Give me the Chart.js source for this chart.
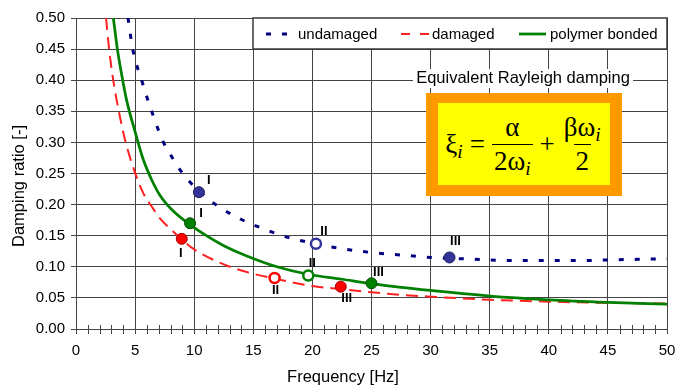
<!DOCTYPE html>
<html>
<head>
<meta charset="utf-8">
<script src="https://cdn.jsdelivr.net/npm/chart.js@4.4.0/dist/chart.umd.min.js"></script>
<style>
  html, body { margin: 0; padding: 0; background: #fff; }
  #wrap { position: relative; width: 678px; height: 387px; }
  #formula {
    position: absolute; left: 426px; top: 93px; width: 196px; height: 103px;
    box-sizing: border-box; background: #ffff00;
    border-style: solid; border-color: #ff9900; border-width: 10px 12px 11px 12px;
    display: flex; align-items: center; justify-content: center;
    font-family: 'Liberation Serif', 'Times New Roman', serif; font-size: 27px; color: #000;
  }
  #formula sub { font-style: italic; font-size: 0.72em; vertical-align: -0.28em; line-height: 0; }
  #formula .op { margin: 0 7px; }
  #formula .frac { display: inline-flex; flex-direction: column; align-items: center; line-height: 1.22; }
  #formula .frac > span { padding: 0 2px; }
  #formula .den { border-top: 1.5px solid #000; }
</style>
</head>
<body>
<div id="wrap">
  <canvas id="chart" width="678" height="387"></canvas>
  <div id="formula">
    <span>ξ<sub>i</sub></span><span class="op">=</span><span class="frac"><span>α</span><span class="den">2ω<sub>i</sub></span></span><span class="op">+</span><span class="frac"><span>βω<sub>i</sub></span><span class="den">2</span></span>
  </div>
</div>
<script>
// curves (frequency in Hz, damping ratio)
const undamagedFreq  = [4.4, 4.8, 5.6, 6.4, 7.4, 8.1, 8.8, 9.6, 10.4, 11.9, 14, 16, 18, 20, 22.5, 25, 27.5, 30, 32.5, 35, 37.5, 40, 42.5, 45, 47.5, 50];
const undamagedRatio = [0.50, 0.45, 0.397, 0.35, 0.30, 0.277, 0.256, 0.237, 0.222, 0.199, 0.176, 0.160, 0.147, 0.138, 0.129, 0.123, 0.119, 0.115, 0.113, 0.111, 0.110, 0.110, 0.110, 0.111, 0.112, 0.113];

const damagedFreq  = [2.54, 2.8, 3.15, 3.44, 4.15, 5.0, 5.7, 6.4, 7.1, 8.1, 9, 10, 12, 14, 16.8, 20, 22.5, 25, 27.5, 30, 35, 40, 45, 50];
const damagedRatio = [0.50, 0.45, 0.40, 0.368, 0.304, 0.251, 0.218, 0.197, 0.178, 0.159, 0.143, 0.128, 0.108, 0.094, 0.081, 0.069, 0.064, 0.059, 0.055, 0.052, 0.047, 0.044, 0.042, 0.041];

const polymerFreq  = [3.16, 3.5, 3.95, 4.28, 5.0, 5.7, 6.4, 7.1, 8.2, 9.7, 11.2, 12.5, 14.5, 17, 19.6, 22.5, 25, 27.5, 30, 35, 40, 45, 50];
const polymerRatio = [0.50, 0.45, 0.40, 0.368, 0.317, 0.272, 0.240, 0.215, 0.190, 0.167, 0.148, 0.134, 0.117, 0.100, 0.088, 0.080, 0.073, 0.067, 0.062, 0.053, 0.047, 0.043, 0.040];

// measured modes I, II, III
const modeLabels = ['I', 'II', 'III'];
const undamagedModeFreq  = [10.4, 20.3, 31.6];
const undamagedModeRatio = [0.220, 0.137, 0.115];
const damagedModeFreq  = [8.95, 16.8, 22.4];
const damagedModeRatio = [0.145, 0.082, 0.068];
const polymerModeFreq  = [9.65, 19.65, 25.0];
const polymerModeRatio = [0.170, 0.086, 0.0735];

const xTicks = { min: 0, max: 50, step: 5 };
const yTicks = { min: 0, max: 0.5, step: 0.05 };

const toXY = (xs, ys) => xs.map((x, i) => ({ x: x, y: ys[i] }));

Chart.defaults.font.family = "'Liberation Sans', Arial, sans-serif";
Chart.defaults.color = '#000';

const gridColor = '#444';

// label offsets (px) for the mode numerals, per dataset
const labelOffsets = {
  3: [[10, -12], [8, -12], [6, -16]],
  4: [[-1, 15], [1, 12], [6, 12]],
  5: [[11, -10], [4, -12], [7, -11]]
};

const decorations = {
  id: 'decorations',
  afterDraw(chart) {
    const ctx = chart.ctx;
    const xs = chart.scales.x;
    const area = chart.chartArea;

    // minor ticks on the frequency axis
    ctx.save();
    ctx.strokeStyle = gridColor;
    ctx.lineWidth = 1;
    for (let v = xTicks.min + 1; v < xTicks.max; v++) {
      if (v % 5 === 0) continue;
      const px = Math.round(xs.getPixelForValue(v)) + 0.5;
      ctx.beginPath();
      ctx.moveTo(px, area.bottom - 4);
      ctx.lineTo(px, area.bottom + 5);
      ctx.stroke();
    }
    ctx.restore();

    // axis titles
    ctx.save();
    ctx.fillStyle = '#000';
    ctx.font = "16.5px 'Liberation Sans', Arial, sans-serif";
    ctx.textAlign = 'center';
    ctx.textBaseline = 'middle';
    ctx.fillText('Frequency [Hz]', 343, 377);
    ctx.translate(19, 186);
    ctx.rotate(-Math.PI / 2);
    ctx.fillText('Damping ratio [-]', 0, 0);
    ctx.restore();

    // mode labels
    ctx.save();
    ctx.font = "bold 13px 'Liberation Sans', Arial, sans-serif";
    ctx.fillStyle = '#000';
    ctx.textAlign = 'center';
    ctx.textBaseline = 'middle';
    [3, 4, 5].forEach(di => {
      chart.getDatasetMeta(di).data.forEach((pt, i) => {
        const off = labelOffsets[di][i];
        ctx.fillText(modeLabels[i], pt.x + off[0], pt.y + off[1]);
      });
    });
    ctx.restore();

    // legend box
    ctx.save();
    ctx.fillStyle = '#fff';
    ctx.fillRect(253, 18, 414, 31);
    ctx.strokeStyle = '#3a3a3a';
    ctx.lineWidth = 1.5;
    ctx.strokeRect(253, 18, 414, 31);
    const items = [
      { ds: 0, x0: 266, x1: 290, dash: [5, 11], tx: 298 },
      { ds: 1, x0: 401, x1: 430, dash: [9, 10], tx: 432 },
      { ds: 2, x0: 519, x1: 546, dash: [], tx: 550 }
    ];
    ctx.font = "15px 'Liberation Sans', Arial, sans-serif";
    ctx.textBaseline = 'middle';
    ctx.textAlign = 'left';
    items.forEach(it => {
      const d = chart.data.datasets[it.ds];
      ctx.beginPath();
      ctx.setLineDash(it.dash);
      ctx.strokeStyle = d.borderColor;
      ctx.lineWidth = d.borderWidth;
      ctx.moveTo(it.x0, 34);
      ctx.lineTo(it.x1, 34);
      ctx.stroke();
      ctx.setLineDash([]);
      ctx.fillStyle = '#000';
      ctx.fillText(d.label, it.tx, 34.5);
    });

    // caption above the formula
    ctx.fillStyle = '#fff';
    ctx.fillRect(413, 69, 220, 19);
    ctx.fillStyle = '#000';
    ctx.textAlign = 'center';
    ctx.font = "16.5px 'Liberation Sans', Arial, sans-serif";
    ctx.fillText('Equivalent Rayleigh damping', 523, 78.5);
    ctx.restore();
  }
};

const ctx = document.getElementById('chart').getContext('2d');
const chart = new Chart(ctx, {
  type: 'scatter',
  data: {
    datasets: [
      {
        label: 'undamaged', data: toXY(undamagedFreq, undamagedRatio), showLine: true,
        borderColor: '#000080', borderWidth: 3, borderDash: [5, 11], pointRadius: 0,
        cubicInterpolationMode: 'monotone', order: 2
      },
      {
        label: 'damaged', data: toXY(damagedFreq, damagedRatio), showLine: true,
        borderColor: '#ff2020', borderWidth: 2, borderDash: [12, 7], pointRadius: 0,
        cubicInterpolationMode: 'monotone', order: 2
      },
      {
        label: 'polymer bonded', data: toXY(polymerFreq, polymerRatio), showLine: true,
        borderColor: '#008000', borderWidth: 2.75, pointRadius: 0,
        cubicInterpolationMode: 'monotone', order: 1
      },
      {
        label: 'undamaged modes', data: toXY(undamagedModeFreq, undamagedModeRatio),
        pointRadius: [5.5, 5, 5.5],
        pointBackgroundColor: ['#333399', '#ffffff', '#333399'],
        pointBorderColor: ['#1a1a5c', '#333399', '#1a1a5c'],
        pointBorderWidth: [1, 2.5, 1], order: 0
      },
      {
        label: 'damaged modes', data: toXY(damagedModeFreq, damagedModeRatio),
        pointRadius: [5.5, 5, 5.5],
        pointBackgroundColor: ['#ff0000', '#ffffff', '#ff0000'],
        pointBorderColor: ['#a00000', '#ff0000', '#a00000'],
        pointBorderWidth: [1, 2.5, 1], order: 0
      },
      {
        label: 'polymer modes', data: toXY(polymerModeFreq, polymerModeRatio),
        pointRadius: [5.5, 5, 5.5],
        pointBackgroundColor: ['#008000', '#ffffff', '#008000'],
        pointBorderColor: ['#004d00', '#008000', '#004d00'],
        pointBorderWidth: [1, 2.5, 1], order: 0
      }
    ]
  },
  options: {
    responsive: false,
    animation: false,
    devicePixelRatio: 1,
    layout: { padding: { top: 18, right: 11, left: 0, bottom: 0 } },
    plugins: { legend: { display: false }, tooltip: { enabled: false } },
    scales: {
      x: {
        type: 'linear', min: xTicks.min, max: xTicks.max,
        ticks: { stepSize: xTicks.step, font: { size: 15 }, padding: 8, maxRotation: 0, color: '#000' },
        grid: { color: gridColor, lineWidth: 1, tickLength: 5 },
        border: { color: gridColor, width: 1 },
        afterFit: s => { s.height = 58; s.paddingLeft = 0; s.paddingRight = 0; }
      },
      y: {
        min: yTicks.min, max: yTicks.max,
        ticks: { stepSize: yTicks.step, font: { size: 15 }, padding: 6, color: '#000', callback: v => v.toFixed(2) },
        grid: { color: gridColor, lineWidth: 1, tickLength: 5 },
        border: { color: gridColor, width: 1 },
        afterFit: s => { s.width = 76; s.paddingTop = 0; s.paddingBottom = 0; }
      }
    }
  },
  plugins: [decorations]
});
</script>
</body>
</html>
